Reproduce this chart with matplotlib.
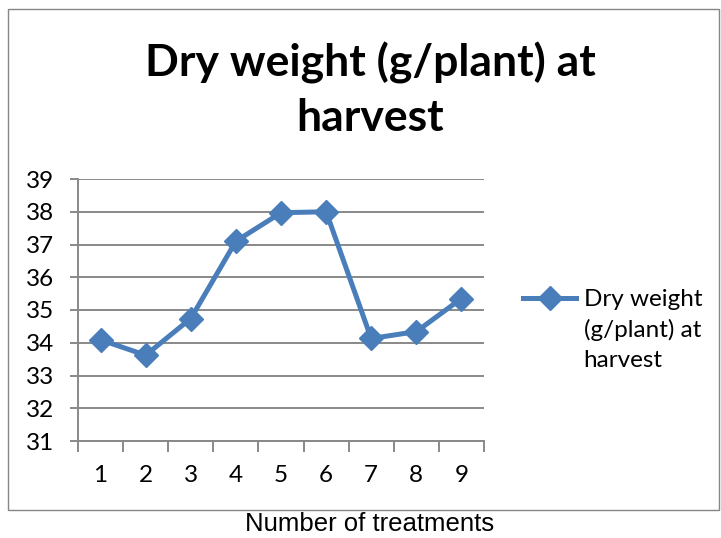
import matplotlib
matplotlib.use("Agg")
import matplotlib.pyplot as plt
from matplotlib.patches import Rectangle
from matplotlib.legend_handler import HandlerLine2D

treatments = [1, 2, 3, 4, 5, 6, 7, 8, 9]
dry_weight = [34.09, 33.62, 34.74, 37.10, 37.97, 38.00, 34.13, 34.34, 35.35]
y_ticks = [31, 32, 33, 34, 35, 36, 37, 38, 39]

BLUE = '#4A7EBB'
GRID = '#898989'
FONT = 'Lato'
FS = 17.5
LEG_LINE = 22.7  # legend line pitch in points


class FirstLineHandler(HandlerLine2D):
    # put the legend key next to the first line of a multi-line label
    def __init__(self, shift, **kw):
        super().__init__(**kw)
        self.shift = shift

    def create_artists(self, legend, orig_handle, xdescent, ydescent,
                       width, height, fontsize, trans):
        return super().create_artists(legend, orig_handle, xdescent,
                                      ydescent - 2 * self.shift, width,
                                      height, fontsize, trans)


fig = plt.figure(figsize=(7.21, 5.38), dpi=100)

# chart border
fig.patches.append(Rectangle((8 / 721, 1 - 510 / 538), 711 / 721, 501 / 538,
                             transform=fig.transFigure, fill=False,
                             edgecolor='#868686', linewidth=1.0))

ax = fig.add_axes([78 / 721, 1 - 441 / 538, 406 / 721, 262 / 538])
line, = ax.plot(treatments, dry_weight, color=BLUE, linewidth=3.6, marker='D',
                markersize=12, markerfacecolor=BLUE, markeredgecolor=BLUE,
                label='Dry weight\n(g/plant) at\nharvest', zorder=3)

ax.set_xlim(0.5, 9.5)
ax.set_ylim(31, 39)
ax.set_yticks(y_ticks)
ax.set_xticks(treatments)
ax.set_xticks([t + 0.5 for t in [0] + treatments], minor=True)
ax.yaxis.grid(True, color=GRID, linewidth=1.4)
ax.set_axisbelow(True)

for s in ['top', 'right']:
    ax.spines[s].set_visible(False)
for s in ['left', 'bottom']:
    ax.spines[s].set_color(GRID)
    ax.spines[s].set_linewidth(1.4)

ax.tick_params(axis='y', length=6, width=1.4, color=GRID, pad=11,
               labelsize=FS)
ax.tick_params(axis='x', which='major', length=0, pad=17, labelsize=FS)
ax.tick_params(axis='x', which='minor', length=8, width=1.4, color=GRID)
for lab in ax.get_xticklabels() + ax.get_yticklabels():
    lab.set_fontfamily(FONT)

fig.text(370 / 721, 1 - 90 / 538, 'Dry weight (g/plant) at\nharvest',
         ha='center', va='center', fontsize=32, fontweight='bold',
         family=FONT, linespacing=1.4)

fig.text(370 / 721, 1 - 524 / 538, 'Number of treatments', ha='center',
         va='center', fontsize=18.5, family='Liberation Sans')

leg = fig.legend(handles=[line], loc='center left',
                 bbox_to_anchor=(501 / 721, 1 - 330 / 538),
                 frameon=False, prop={'family': FONT, 'size': FS},
                 handlelength=2.2, handletextpad=0.3, labelspacing=0.2,
                 handler_map={line: FirstLineHandler(LEG_LINE)})
leg.get_texts()[0].set_linespacing(1.5)

fig.savefig('out.png', dpi=100)
